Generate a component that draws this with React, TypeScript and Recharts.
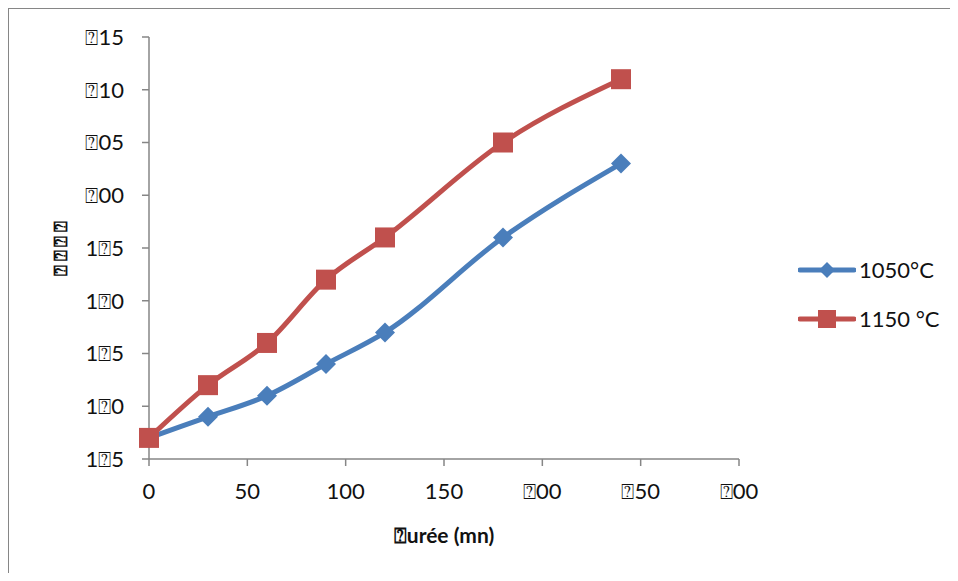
import { LineChart, Line, XAxis, YAxis, Legend } from 'recharts';

const durations = [0, 30, 60, 90, 120, 180, 240];
const series1050 = [177, 179, 181, 184, 187, 196, 203];
const series1150 = [177, 182, 186, 192, 196, 205, 211];
const xTicks = [0, 50, 100, 150, 200, 250, 300];
const yTicks = [175, 180, 185, 190, 195, 200, 205, 210, 215];

const BLUE = '#4a7ebb';
const RED = '#c0504d';
const AXIS = '#868686';
const TEXT = '#111';
const FONT = 'Lato, "Open Sans", sans-serif';
const TOFU = '\u2370';

// the original font lacked some digit glyphs, they show as boxes
const tofu = (v: number | string) => String(v).replace(/[23789]/g, TOFU);

const yTitle = TOFU.repeat(4);

const data = durations.map((d, i) => ({ d, t1050: series1050[i], t1150: series1150[i] }));

const Diamond = (props: any) => {
  const { cx, cy } = props;
  if (cx == null || cy == null) return null;
  const r = 10;
  return <polygon points={`${cx},${cy - r} ${cx + r},${cy} ${cx},${cy + r} ${cx - r},${cy}`} fill={BLUE} />;
};

const Square = (props: any) => {
  const { cx, cy } = props;
  if (cx == null || cy == null) return null;
  return <rect x={cx - 10} y={cy - 10} width={20} height={20} fill={RED} />;
};

const legendItems = [
  { name: '1050°C', color: BLUE, marker: 'diamond' },
  { name: '1150 °C', color: RED, marker: 'square' },
];

function LegendBox() {
  return (
    <div style={{ fontFamily: FONT, fontSize: 22, color: TEXT }}>
      {legendItems.map((item) => (
        <div key={item.name} style={{ display: 'flex', alignItems: 'center', height: 49 }}>
          <svg width={58} height={20}>
            <line x1={2} y1={10} x2={56} y2={10} stroke={item.color} strokeWidth={5} strokeLinecap="round" />
            {item.marker === 'diamond' ? (
              <polygon points="29,2 37,10 29,18 21,10" fill={item.color} />
            ) : (
              <rect x={20} y={1} width={18} height={18} fill={item.color} />
            )}
          </svg>
          <span style={{ marginLeft: 3 }}>{item.name}</span>
        </div>
      ))}
    </div>
  );
}

export default function App() {
  return (
    <div style={{ width: 941, height: 564, borderLeft: `1px solid ${AXIS}`, borderTop: `1px solid ${AXIS}`, position: 'relative', overflow: 'hidden', background: '#fff' }}>
      <LineChart width={940} height={564} data={data} margin={{ top: 28, right: 210, bottom: 0, left: 0 }}>
        <XAxis
          dataKey="d"
          type="number"
          domain={[0, 300]}
          ticks={xTicks}
          tickFormatter={tofu}
          height={114}
          stroke={AXIS}
          strokeWidth={1.5}
          tickSize={7}
          tickMargin={17}
          tick={{ fill: TEXT, fontFamily: FONT, fontSize: 22 }}
          label={{ value: `${TOFU}urée (mn)`, position: 'insideBottom', offset: 30, fill: TEXT, fontFamily: FONT, fontSize: 21, fontWeight: 'bold' }}
        />
        <YAxis
          type="number"
          domain={[175, 215]}
          ticks={yTicks}
          tickFormatter={tofu}
          width={140}
          stroke={AXIS}
          strokeWidth={1.5}
          tickSize={7}
          tickMargin={18}
          tick={{ fill: TEXT, fontFamily: FONT, fontSize: 22 }}
        />
        <Legend
          layout="vertical"
          align="center"
          verticalAlign="middle"
          content={<LegendBox />}
          wrapperStyle={{ position: 'absolute', left: 789, top: 236, width: 150 }}
        />
        <Line type="monotone" dataKey="t1050" name="1050°C" stroke={BLUE} strokeWidth={5} dot={<Diamond />} activeDot={false} isAnimationActive={false} />
        <Line type="monotone" dataKey="t1150" name="1150 °C" stroke={RED} strokeWidth={5} dot={<Square />} activeDot={false} isAnimationActive={false} />
      </LineChart>
      {/* rotated axis title, stacked char by char */}
      <div style={{ position: 'absolute', left: 43, top: 210, width: 16, display: 'flex', flexDirection: 'column', alignItems: 'center', fontFamily: FONT, fontSize: 18, fontWeight: 'bold', color: TEXT, lineHeight: '14.5px' }}>
        {yTitle.split('').map((ch, i) => (
          <span key={i} style={{ display: 'block', height: 14.5, transform: 'rotate(-90deg)' }}>{ch}</span>
        ))}
      </div>
    </div>
  );
}
